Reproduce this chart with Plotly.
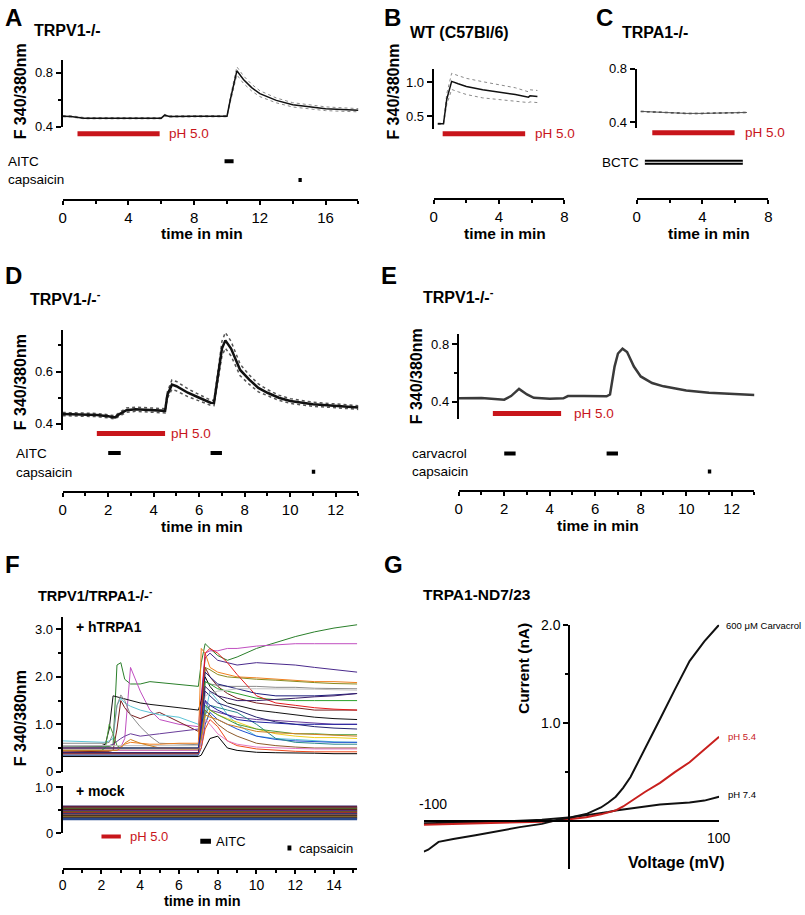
import plotly.graph_objects as go

# ======================= DATA =======================
# Panel A  TRPV1-/-
A_TIME = [0, 0.5, 1.3, 3, 5, 6.0, 6.2, 6.5, 8, 10.0, 10.2, 10.6, 11, 11.5, 12, 13, 14, 15, 16, 17, 18]
A_MEAN = [0.478, 0.476, 0.463, 0.463, 0.463, 0.463, 0.485, 0.476, 0.477, 0.478, 0.60, 0.815, 0.75, 0.69,
          0.645, 0.595, 0.562, 0.547, 0.533, 0.527, 0.522]
A_SEM = [0.005, 0.005, 0.005, 0.005, 0.005, 0.005, 0.006, 0.005, 0.005, 0.005, 0.02, 0.03, 0.028, 0.025,
         0.022, 0.018, 0.016, 0.015, 0.014, 0.013, 0.012]
A_PH = [0.9, 5.9]
A_AITC = [9.85, 10.4]
A_CAPS = [14.35, 14.55]

# Panel B  WT (C57Bl/6)
B_TIME = [0.25, 0.6, 0.8, 1.1, 1.5, 2, 3, 4, 5, 5.8, 5.9, 6.35]
B_MEAN = [0.385, 0.385, 0.75, 1.015, 0.98, 0.94, 0.89, 0.86, 0.82, 0.78, 0.80, 0.79]
B_SEM = [0.01, 0.01, 0.08, 0.12, 0.12, 0.12, 0.12, 0.11, 0.10, 0.08, 0.09, 0.09]
B_PH = [0.55, 5.6]

# Panel C  TRPA1-/-
C_TIME = [0.25, 1, 2, 3, 4, 5, 6, 6.7]
C_MEAN = [0.48, 0.475, 0.468, 0.465, 0.465, 0.467, 0.47, 0.472]
C_PH = [0.95, 5.95]
C_BCTC = [0.5, 6.45]

# Panel D  TRPV1-/- (AITC)
D_TIME = [0, 1.5, 2.0, 2.3, 2.5, 2.8, 3.2, 4.0, 4.5, 4.6, 4.8, 5.0, 5.5, 6.0, 6.5, 6.65, 6.8, 7.0, 7.15,
          7.4, 7.8, 8.2, 8.6, 9.0, 9.5, 10, 11, 12, 13]
D_MEAN = [0.4375, 0.434, 0.429, 0.425, 0.4375, 0.4525, 0.456, 0.4525, 0.45, 0.51, 0.55, 0.544, 0.519,
          0.50, 0.481, 0.48, 0.575, 0.6875, 0.719, 0.6875, 0.606, 0.569, 0.5375, 0.519, 0.50, 0.4875,
          0.475, 0.469, 0.4625]
D_SEM = [0.006, 0.006, 0.006, 0.006, 0.007, 0.008, 0.008, 0.008, 0.008, 0.012, 0.018, 0.018, 0.015,
         0.012, 0.01, 0.01, 0.02, 0.028, 0.03, 0.028, 0.022, 0.018, 0.015, 0.012, 0.01, 0.009, 0.008,
         0.007, 0.007]
D_PH = [1.5, 4.5]
D_AITC = [[2.0, 2.55], [6.5, 7.0]]
D_CAPS = [10.95, 11.1]

# Panel E  TRPV1-/- (carvacrol)
E_TIME = [0, 1, 2.0, 2.3, 2.65, 3.0, 3.3, 4.0, 4.6, 4.8, 5.5, 6.5, 6.65, 6.85, 7.0, 7.2, 7.4, 7.7, 8.0,
          8.5, 9, 10, 11, 12, 13]
E_MEAN = [0.423, 0.425, 0.414, 0.439, 0.489, 0.45, 0.427, 0.42, 0.423, 0.439, 0.439, 0.437, 0.45, 0.645,
          0.736, 0.77, 0.747, 0.645, 0.576, 0.53, 0.507, 0.478, 0.462, 0.455, 0.446]
E_PH = [1.5, 4.5]
E_CARV = [[2.0, 2.5], [6.5, 7.0]]
E_CAPS = [10.95, 11.1]

# Panel F  TRPV1/TRPA1-/-  single-cell traces (+ hTRPA1), sampled at F_TIME
F_TIME = [0, 2.0, 2.2, 2.4, 2.6, 2.8, 3.0, 3.2, 3.5, 4.0, 4.5, 5.0, 6.0, 7.0, 7.15, 7.35, 7.6, 8.0, 8.5,
          9.0, 10.0, 11.0, 12.0, 13.0, 14.0, 15.2]
F_HTRPA1 = [
    [0.52, 0.52, 0.52, 0.53, 0.56, 2.25, 2.3, 1.95, 1.85, 1.85, 1.9, 1.88, 1.85, 1.8, 2.3, 2.7, 2.6, 2.45, 2.35, 2.42, 2.6, 2.72, 2.85, 2.95, 3.03, 3.1],
    [0.5, 0.5, 0.5, 0.5, 0.5, 0.5, 0.52, 0.7, 2.2, 1.7, 1.3, 1.1, 1.0, 0.95, 1.6, 2.5, 2.55, 2.55, 2.6, 2.6, 2.65, 2.68, 2.7, 2.7, 2.7, 2.7],
    [0.45, 0.45, 0.45, 0.45, 0.45, 0.45, 0.45, 0.45, 0.45, 0.45, 0.45, 0.45, 0.45, 0.45, 1.5, 2.4, 2.5, 2.35, 2.3, 2.25, 2.3, 2.28, 2.25, 2.2, 2.15, 2.1],
    [0.55, 0.55, 0.58, 0.9, 1.6, 1.58, 1.55, 1.53, 1.5, 1.45, 1.42, 1.4, 1.35, 1.3, 1.5, 2.0, 1.8, 1.6, 1.45, 1.4, 1.3, 1.25, 1.2, 1.15, 1.12, 1.1],
    [0.42, 0.42, 0.42, 0.43, 0.45, 0.9, 1.5, 1.35, 1.2, 1.12, 1.2, 1.25, 1.05, 0.85, 1.2, 2.2, 2.0, 1.8, 1.65, 1.55, 1.45, 1.4, 1.35, 1.3, 1.3, 1.3],
    [0.55, 0.55, 0.55, 0.55, 0.58, 0.65, 0.7, 0.75, 0.8, 0.75, 0.78, 0.8, 0.85, 0.9, 1.0, 1.5, 1.3, 1.25, 1.2, 1.15, 1.1, 1.08, 1.05, 1.02, 1.0, 1.0],
    [0.65, 0.62, 0.62, 0.65, 0.7, 1.4, 1.55, 1.45, 1.38, 1.3, 1.25, 1.2, 1.15, 1.0, 0.65, 1.2, 1.7, 1.5, 1.2, 1.0, 0.75, 0.7, 0.68, 0.65, 0.63, 0.62],
    [0.6, 0.6, 0.6, 0.62, 0.8, 1.4, 1.62, 1.5, 1.2, 0.95, 0.75, 0.6, 0.58, 0.57, 1.0, 1.9, 1.85, 1.82, 1.8, 1.8, 1.8, 1.78, 1.78, 1.76, 1.75, 1.75],
    [0.5, 0.5, 0.5, 0.5, 0.5, 0.5, 0.52, 0.58, 0.62, 0.6, 0.58, 0.58, 0.6, 0.6, 2.6, 2.5, 2.2, 2.1, 2.05, 2.0, 1.98, 1.95, 1.92, 1.9, 1.9, 1.88],
    [0.35, 0.35, 0.35, 0.35, 0.35, 0.35, 0.35, 0.35, 0.35, 0.35, 0.35, 0.35, 0.35, 0.35, 1.2, 2.2, 2.15, 2.05, 2.0, 1.98, 1.95, 1.93, 1.9, 1.88, 1.86, 1.85],
    [0.38, 0.38, 0.38, 0.38, 0.38, 0.38, 0.38, 0.38, 0.38, 0.38, 0.38, 0.38, 0.38, 0.38, 1.0, 2.1, 2.0, 1.85, 1.8, 1.75, 1.65, 1.6, 1.6, 1.6, 1.62, 1.65],
    [0.4, 0.4, 0.4, 0.4, 0.4, 0.4, 0.4, 0.4, 0.4, 0.4, 0.4, 0.4, 0.4, 0.4, 1.0, 1.9, 1.85, 1.75, 1.7, 1.65, 1.55, 1.52, 1.5, 1.5, 1.5, 1.5],
    [0.45, 0.45, 0.45, 0.45, 0.45, 0.45, 0.45, 0.45, 0.45, 0.45, 0.45, 0.45, 0.45, 0.45, 1.2, 2.5, 2.6, 2.5, 2.3, 2.05, 1.6, 1.45, 1.4, 1.35, 1.32, 1.3],
    [0.45, 0.45, 0.45, 0.45, 0.45, 0.45, 0.45, 0.45, 0.45, 0.45, 0.45, 0.45, 0.45, 0.45, 0.6, 1.0, 1.3, 1.2, 1.12, 1.05, 0.9, 0.8, 0.75, 0.72, 0.72, 0.7],
    [0.35, 0.35, 0.35, 0.35, 0.35, 0.35, 0.35, 0.35, 0.35, 0.35, 0.35, 0.35, 0.35, 0.35, 0.5, 1.0, 1.25, 1.1, 1.0, 0.9, 0.75, 0.68, 0.65, 0.63, 0.62, 0.62],
    [0.38, 0.38, 0.38, 0.38, 0.38, 0.38, 0.38, 0.38, 0.38, 0.38, 0.38, 0.38, 0.38, 0.38, 0.5, 0.9, 1.1, 0.95, 0.65, 0.55, 0.48, 0.45, 0.43, 0.42, 0.42, 0.42],
    [0.32, 0.32, 0.32, 0.32, 0.32, 0.32, 0.32, 0.32, 0.32, 0.32, 0.32, 0.32, 0.32, 0.32, 0.35, 0.5, 0.7, 0.75, 0.5, 0.45, 0.41, 0.4, 0.4, 0.39, 0.38, 0.38],
    [0.4, 0.4, 0.4, 0.4, 0.4, 0.4, 0.4, 0.4, 0.4, 0.4, 0.4, 0.4, 0.4, 0.4, 0.9, 1.7, 1.6, 1.45, 1.38, 1.3, 1.15, 1.05, 1.0, 0.95, 0.92, 0.9],
    [0.45, 0.45, 0.45, 0.45, 0.45, 0.45, 0.45, 0.45, 0.45, 0.45, 0.45, 0.45, 0.45, 0.45, 0.6, 1.2, 1.4, 1.35, 1.3, 1.25, 1.0, 0.7, 0.62, 0.6, 0.58, 0.58],
    [0.5, 0.5, 0.5, 0.5, 0.5, 0.5, 0.5, 0.5, 0.5, 0.5, 0.5, 0.5, 0.5, 0.5, 0.7, 1.3, 1.2, 1.0, 0.85, 0.75, 0.6, 0.55, 0.52, 0.5, 0.5, 0.5],
    [0.45, 0.45, 0.45, 0.45, 0.45, 0.45, 0.45, 0.45, 0.45, 0.45, 0.45, 0.45, 0.45, 0.45, 0.6, 1.1, 1.0, 0.8, 0.65, 0.58, 0.52, 0.5, 0.49, 0.48, 0.48, 0.48],
    [0.45, 0.45, 0.5, 1.0, 0.8, 0.55, 0.5, 0.5, 0.5, 0.5, 0.5, 0.5, 0.5, 0.5, 0.8, 1.4, 1.3, 1.2, 1.1, 1.0, 0.9, 0.85, 0.8, 0.8, 0.78, 0.78],
    [0.55, 0.55, 0.55, 0.55, 0.55, 0.55, 0.55, 0.55, 0.55, 0.55, 0.55, 0.55, 0.55, 0.55, 0.9, 1.6, 1.65, 1.7, 1.72, 1.75, 1.75, 1.75, 1.75, 1.74, 1.73, 1.72],
    [0.4, 0.4, 0.4, 0.4, 0.4, 0.4, 0.4, 0.4, 0.4, 0.4, 0.4, 0.4, 0.4, 0.4, 1.0, 1.8, 1.7, 1.6, 1.55, 1.5, 1.5, 1.52, 1.55, 1.58, 1.6, 1.65],
    [0.45, 0.45, 0.45, 0.45, 0.45, 0.45, 0.5, 0.6, 0.68, 0.6, 0.55, 0.5, 0.48, 0.48, 0.7, 1.2, 1.15, 1.1, 1.0, 0.95, 0.85, 0.82, 0.8, 0.78, 0.76, 0.75],
    [0.5, 0.5, 0.5, 0.5, 0.5, 0.5, 0.5, 0.5, 0.5, 0.5, 0.5, 0.5, 0.5, 0.5, 0.9, 1.5, 1.4, 1.3, 1.2, 1.1, 1.05, 1.02, 1.0, 1.0, 1.0, 1.0],
]
F_COLORS = ["#2a7f2a", "#c04fc0", "#4a2a8c", "#111111", "#7a1f1f", "#6a3d9a", "#5bc4d6", "#8a8a8a",
            "#f08020", "#8a8a1e", "#1b1b7a", "#2ca02c", "#e41a1c", "#f0d020", "#1f4fd0", "#f04a1a",
            "#000000", "#23236e", "#2a8a8a", "#8c5a2b", "#e377c2", "#4a9a3a", "#c0c0c0", "#3b1f6b",
            "#d08020", "#2020a0"]
# + mock cells: flat traces
MOCK_TIME = [0, 15.2]
MOCK_LEVELS = [0.58, 0.565, 0.55, 0.535, 0.52, 0.505, 0.49, 0.475, 0.46, 0.445, 0.43, 0.415, 0.40,
               0.385, 0.37, 0.355, 0.34, 0.325, 0.31]
MOCK_COLORS = ["#3a2a6a", "#8a2020", "#202060", "#c05020", "#2a6a2a", "#111111", "#a03030", "#40308a",
               "#806020", "#303030", "#c03030", "#2a2a8a", "#6a6a20", "#8a3a8a", "#202020", "#d07020",
               "#305a30", "#5a2a2a", "#2a4a8a"]
F_PH = [2.0, 3.0]
F_AITC = [7.1, 7.65]
F_CAPS = [11.6, 11.8]

# Panel G  TRPA1-ND7/23  I-V curves
G_VOLT = [-100, -97, -90, -80, -65, -50, -35, -20, -10, 0, 10, 20, 25, 30, 35, 40, 50, 60, 70, 80, 90, 100]
G_CARVACROL = [-0.31, -0.29, -0.21, -0.18, -0.143, -0.10, -0.06, -0.027, 0.013, 0.04, 0.073, 0.14, 0.19,
               0.25, 0.34, 0.45, 0.74, 1.04, 1.34, 1.63, 1.83, 2.0]
G_PH54 = [-0.035, -0.034, -0.032, -0.03, -0.025, -0.02, -0.012, -0.005, 0.005, 0.02, 0.04, 0.07, 0.09,
          0.11, 0.15, 0.2, 0.3, 0.39, 0.5, 0.6, 0.73, 0.86]
G_PH74 = [-0.02, -0.02, -0.018, -0.015, -0.01, -0.005, 0.005, 0.015, 0.025, 0.04, 0.06, 0.08, 0.095,
          0.11, 0.12, 0.13, 0.15, 0.17, 0.18, 0.19, 0.21, 0.25]

# ======================= STYLE / LAYOUT =======================
W, H = 805, 915
FONT = "Arial, 'Liberation Sans', Helvetica, sans-serif"
RED = "#c8151b"


def fx(px):
    return px / W


def fy(py):
    return 1 - py / H


fig = go.Figure()
layout = dict(width=W, height=H, autosize=False, margin=dict(l=0, r=0, t=0, b=0),
              paper_bgcolor="white", plot_bgcolor="rgba(0,0,0,0)", showlegend=False,
              font=dict(family=FONT, color="black"))
annotations = []
_n = [0]


def new_axes(x0, x1, y0, y1, xr, yr, xkw=None, ykw=None):
    _n[0] += 1
    s = "" if _n[0] == 1 else str(_n[0])
    xa = dict(domain=[fx(x0), fx(x1)], range=xr, anchor="y" + s, visible=False, fixedrange=True,
              showgrid=False, zeroline=False)
    ya = dict(domain=[fy(y1), fy(y0)], range=yr, anchor="x" + s, visible=False, fixedrange=True,
              showgrid=False, zeroline=False)
    xa.update(xkw or {})
    ya.update(ykw or {})
    layout["xaxis" + s] = xa
    layout["yaxis" + s] = ya
    return "x" + s, "y" + s


def y_style(vals, texts, minor=None, size=13):
    d = dict(visible=True, showline=True, linecolor="black", linewidth=2, ticks="outside", ticklen=5,
             tickwidth=2, tickcolor="black", tickvals=vals, ticktext=texts,
             tickfont=dict(size=size, family=FONT, color="black"))
    if minor:
        d["minor"] = dict(tickvals=minor, ticks="outside", ticklen=3, tickwidth=1.5, tickcolor="black",
                          showgrid=False)
    return d


def x_style(vals, minor=None, size=15):
    d = dict(visible=True, showline=True, linecolor="black", linewidth=2, ticks="outside", ticklen=4,
             tickwidth=2, tickcolor="black", tickvals=vals, ticktext=[str(v) for v in vals],
             tickfont=dict(size=size, family=FONT, color="black"), ticklabelstandoff=0)
    if minor:
        d["minor"] = dict(tickvals=minor, ticks="outside", ticklen=3, tickwidth=1.5, tickcolor="black",
                          showgrid=False)
    return d


def text(x, y, s, size, bold=False, color="black", anchor="left", angle=0):
    annotations.append(dict(x=fx(x), y=fy(y), xref="paper", yref="paper",
                            text=f"<b>{s}</b>" if bold else s, showarrow=False, xanchor=anchor,
                            yanchor="middle", textangle=angle, borderpad=0,
                            font=dict(size=size, color=color, family=FONT)))


def line(xa, ya, x, y, color, width, dash="solid"):
    fig.add_trace(go.Scatter(x=x, y=y, xaxis=xa, yaxis=ya, mode="lines", hoverinfo="skip",
                             line=dict(color=color, width=width, dash=dash)))


def bar(xa, ya, span, row_px, color, width):
    fig.add_trace(go.Scatter(x=span, y=[row_px, row_px], xaxis=xa, yaxis=ya, mode="lines",
                             hoverinfo="skip", line=dict(color=color, width=width)))


def mean_sem(xa, ya, t, m, s, mcol, mw, scol, sw, sdash):
    line(xa, ya, t, [a + b for a, b in zip(m, s)], scol, sw, sdash)
    line(xa, ya, t, [a - b for a, b in zip(m, s)], scol, sw, sdash)
    line(xa, ya, t, m, mcol, mw)


# ---------------- Panel A ----------------
xa, ya = new_axes(59.3, 358, 53, 121, [0, 18], [0.398, 0.895],
                  ykw=y_style([0.4, 0.8], ["0.4", "0.8"], [0.6]))
mean_sem(xa, ya, A_TIME, A_MEAN, A_SEM, "#111111", 1.5, "#8a8a8a", 1, "dot")
xb, yb = new_axes(59.3, 358, 123, 194, [0, 18], [194, 123],
                  xkw=x_style([0, 4, 8, 12, 16], [2, 6, 10, 14, 18]))
bar(xb, yb, A_PH, 128, RED, 5)
bar(xb, yb, A_AITC, 156, "black", 4)
bar(xb, yb, A_CAPS, 175, "black", 4)
text(0, 10, "A", 24, True)
text(29, 23, "TRPV1-/-", 16, True)
text(17, 85, "F 340/380nm", 16, True, anchor="center", angle=-90)
text(166, 128, "pH 5.0", 13.5, color=RED)
text(3, 156, "AITC", 13.5)
text(3, 175, "capsaicin", 13.5)
text(200, 230, "time in min", 15.5, True, anchor="center")

# ---------------- Panel B ----------------
xa, ya = new_axes(434, 566, 62, 123, [0, 8], [0.31, 1.2],
                  ykw=y_style([0.5, 1.0], ["0.5", "1.0"]))
mean_sem(xa, ya, B_TIME, B_MEAN, B_SEM, "#111111", 1.5, "#8a8a8a", 1, "dot")
xb, yb = new_axes(434, 566, 123, 193, [0, 8], [193, 123],
                  xkw=x_style([0, 4, 8], [2, 6]))
bar(xb, yb, B_PH, 128, RED, 5)
text(383, 10, "B", 24, True)
text(409, 25, "WT (C57Bl/6)", 16, True)
text(393, 85, "F 340/380nm", 16, True, anchor="center", angle=-90)
text(535, 128, "pH 5.0", 13.5, color=RED)
text(506, 230, "time in min", 15.5, True, anchor="center")

# ---------------- Panel C ----------------
xa, ya = new_axes(639, 772, 62, 122, [0, 8], [0.356, 0.8],
                  ykw=y_style([0.4, 0.8], ["0.4", "0.8"]))
line(xa, ya, C_TIME, C_MEAN, "#333333", 1.5, "dot")
line(xa, ya, C_TIME, C_MEAN, "#555555", 1)
xb, yb = new_axes(639, 772, 123, 193, [0, 8], [193, 123],
                  xkw=x_style([0, 4, 8], [2, 6]))
bar(xb, yb, C_PH, 127, RED, 5)
bar(xb, yb, C_BCTC, 157, "black", 5)
bar(xb, yb, C_BCTC, 157, "white", 1.2)
text(597, 10, "C", 24, True)
text(623, 25, "TRPA1-/-", 16, True)
text(747, 127, "pH 5.0", 13.5, color=RED)
text(603, 157, "BCTC", 13.5)
text(712, 230, "time in min", 15.5, True, anchor="center")

# ---------------- Panel D ----------------
xa, ya = new_axes(59.3, 358, 328, 430, [0, 13], [0.375, 0.7575],
                  ykw=y_style([0.4, 0.6], ["0.4", "0.6"], [0.5, 0.7]))
mean_sem(xa, ya, D_TIME, D_MEAN, D_SEM, "#111111", 2.5, "#555555", 1.5, "dot")
xb, yb = new_axes(59.3, 358, 428, 492, [0, 13], [492, 428],
                  xkw=x_style([0, 2, 4, 6, 8, 10, 12], [1, 3, 5, 7, 9, 11, 13]))
bar(xb, yb, D_PH, 433, RED, 5)
for span in D_AITC:
    bar(xb, yb, span, 453, "black", 4)
bar(xb, yb, D_CAPS, 472, "black", 4)
text(0, 272, "D", 24, True)
text(25, 295, "TRPV1-/-<sup>-</sup>", 16, True)
text(17, 381, "F 340/380nm", 16, True, anchor="center", angle=-90)
text(168, 433, "pH 5.0", 13.5, color=RED)
text(11, 453, "AITC", 13.5)
text(11, 472.7, "capsaicin", 13.5)
text(200, 528, "time in min", 15.5, True, anchor="center")

# ---------------- Panel E ----------------
xa, ya = new_axes(459.3, 758, 331.7, 418.3, [0, 13], [0.279, 0.873],
                  ykw=y_style([0.4, 0.8], ["0.4", "0.8"], [0.6]))
line(xa, ya, E_TIME, E_MEAN, "#3a3a3a", 2.5)
xb, yb = new_axes(459.3, 758, 405, 490.7, [0, 13], [490.7, 405],
                  xkw=x_style([0, 2, 4, 6, 8, 10, 12], [1, 3, 5, 7, 9, 11, 13]))
bar(xb, yb, E_PH, 412.7, RED, 5)
for span in E_CARV:
    bar(xb, yb, span, 453.3, "black", 4)
bar(xb, yb, E_CAPS, 471.7, "black", 4)
text(380, 272, "E", 24, True)
text(421.7, 293, "TRPV1-/-<sup>-</sup>", 16, True)
text(417, 375, "F 340/380nm", 16, True, anchor="center", angle=-90)
text(575, 412.7, "pH 5.0", 13.5, color=RED)
text(410.7, 453.3, "carvacrol", 13.5)
text(410.7, 471.7, "capsaicin", 13.5)
text(600, 527, "time in min", 15.5, True, anchor="center")

# ---------------- Panel F ----------------
xa, ya = new_axes(59.3, 356.8, 620, 777.3, [0, 15.2], [0, 3.26],
                  ykw=y_style([0, 1.0, 2.0, 3.0], ["0", "1.0", "2.0", "3.0"], [0.5, 1.5, 2.5]))
for vals, col in zip(F_HTRPA1, F_COLORS):
    line(xa, ya, F_TIME, vals, col, 1)
xm, ym = new_axes(59.3, 356.8, 791.7, 840, [0, 15.2], [0, 1.034],
                  ykw=y_style([0, 1.0], ["0", "1.0"], [0.5]))
for lvl, col in zip(MOCK_LEVELS, MOCK_COLORS):
    line(xm, ym, MOCK_TIME, [lvl, lvl], col, 2.5)
xb, yb = new_axes(59.3, 356.8, 838, 875, [0, 15.2], [875, 838],
                  xkw=x_style([0, 2, 4, 6, 8, 10, 12, 14], [1, 3, 5, 7, 9, 11, 13, 15], size=14))
bar(xb, yb, F_PH, 843.3, RED, 4)
bar(xb, yb, F_AITC, 848, "black", 5)
bar(xb, yb, F_CAPS, 855, "black", 5)
text(0, 566, "F", 24, True)
text(33, 597, "TRPV1/TRPA1-/-<sup>-</sup>", 14.5, True)
text(72, 630, "+ hTRPA1", 14, True)
text(72, 796.7, "+ mock", 14, True)
text(17, 723, "F 340/380nm", 16, True, anchor="center", angle=-90)
text(126, 843, "pH 5.0", 13, color=RED)
text(213, 848, "AITC", 13)
text(297, 855, "capsaicin", 13)
text(200, 909, "time in min", 14.5, True, anchor="center")

# ---------------- Panel G ----------------
xg, yg = new_axes(424, 722.3, 627.7, 876, [-100, 100], [-0.483, 2.0],
                  xkw=dict(visible=True, showline=True, linecolor="black", linewidth=2,
                           anchor="free", position=fy(827.3), ticks="inside", ticklen=5,
                           tickwidth=2, tickcolor="black", tickvals=[-100, 100],
                           showticklabels=False),
                  ykw=dict(y_style([1.0, 2.0], ["1.0", "2.0"], [0.5, 1.5], size=14),
                           anchor="free", position=fx(571)))
line(xg, yg, G_VOLT, G_PH74, "#111111", 2)
line(xg, yg, G_VOLT, G_PH54, "#c8201e", 2)
line(xg, yg, G_VOLT, G_CARVACROL, "#111111", 2)
text(383, 566, "G", 24, True)
text(421.7, 597, "TRPA1-ND7/23", 15.5, True)
text(524, 672, "Current (nA)", 15.5, True, anchor="center", angle=-90)
text(679, 870, "Voltage (mV)", 16, True, anchor="center")
text(433, 810, "-100", 14, anchor="center")
text(721.7, 845, "100", 14, anchor="center")
text(728, 628, "600 μM Carvacrol", 9.5)
text(730, 741, "pH 5.4", 9.5, color="#c8201e")
text(730, 801, "pH 7.4", 9.5)

layout["annotations"] = annotations
fig.update_layout(**layout)
fig.write_html("out.html", config={"displayModeBar": False},
               post_script="document.body.style.margin='0';document.body.style.overflow='hidden';")
